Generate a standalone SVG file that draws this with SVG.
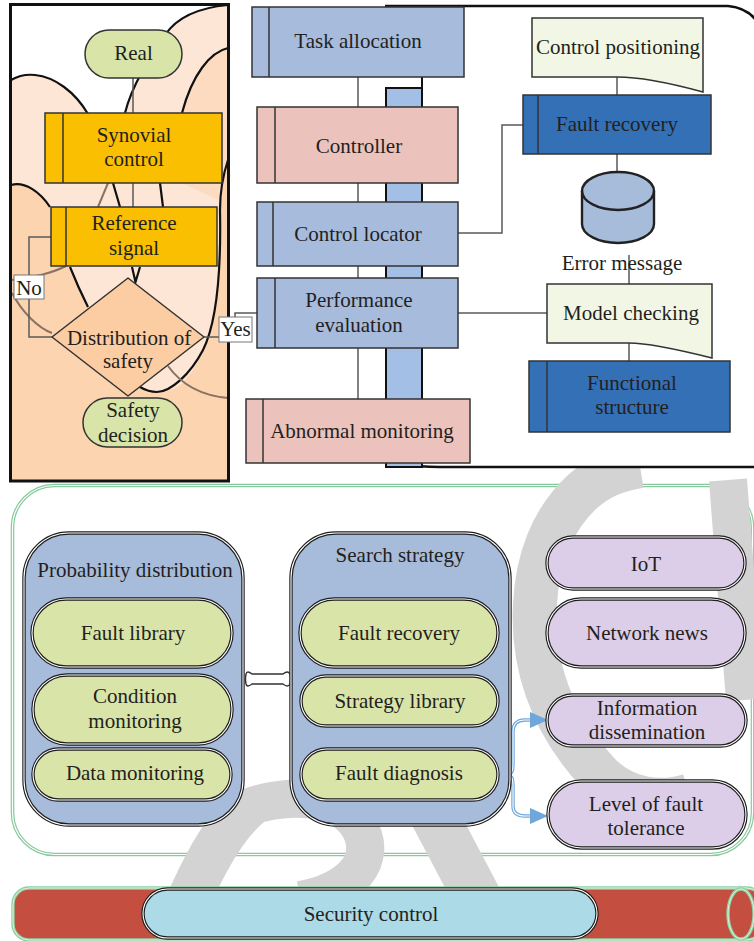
<svg xmlns="http://www.w3.org/2000/svg" width="754" height="941" viewBox="0 0 754 941">
<defs>
<style>
text{font-family:"Liberation Serif","Times New Roman",serif;font-size:21px;fill:#231f20;text-anchor:middle}
.wm{fill:none;stroke:#d3d3d3}
.bx{stroke:#333;stroke-width:1.5}
.blue{fill:#a7bbdc}
.pink{fill:#ecc3bc}
.dark{fill:#3470b6}
.org{fill:#f9bf00}
.grn{fill:#d8e4a8}
.doc{fill:#f2f7e5}
.in{stroke:#333;stroke-width:1.5;fill:none}
.con{stroke:#5a5a5a;stroke-width:1.5;fill:none}
.blk{stroke:#111;stroke-width:2.2;fill:none}
.brn{stroke:#8a7262;stroke-width:2;fill:none}
.d1{stroke:#1e1e1e;stroke-width:3.4}
.d2{fill:none;stroke:#fff;stroke-width:1.1}
.pl{fill:#d9e4a9}
.pu{fill:#dccde8}
.ct{fill:#a7bbdb}
.fl1{fill:none;stroke:#6fa6dc;stroke-width:3.4}
.fl2{fill:none;stroke:#fff;stroke-width:1.1}
.lbl{fill:#fff;stroke:#777;stroke-width:1}
</style>
</defs>
<rect width="754" height="941" fill="#fff"/>

<!-- bottom panel frame -->
<g id="bottom-panel">
<rect x="12.5" y="485.5" width="740" height="369" rx="42" fill="#fff" stroke="#86c99c" stroke-width="3.6"/>
<rect x="12.5" y="485.5" width="740" height="369" rx="42" fill="none" stroke="#fff" stroke-width="1.2"/>
</g>

<!-- background watermark shapes -->
<g id="watermark">
<path class="wm" stroke-width="44" d="M640,466 C615,470 598,478 582,492 C552,520 537,560 535,605 C532,660 548,720 600,775 C625,800 660,805 690,795"/>
<path class="wm" stroke-width="38" d="M728,480 L745,700"/>
<path class="wm" stroke-width="44" d="M168,950 C195,880 220,830 250,805"/>
<path class="wm" stroke-width="38" d="M235,812 C275,795 335,790 358,825 C380,860 350,892 300,900"/>
<path class="wm" stroke-width="48" d="M418,785 L505,950"/>
</g>

<!-- top-right panel -->
<g id="top-right-panel">
<rect x="238" y="0" width="516" height="466" fill="#fff"/>
<path d="M385,6 H728 Q750,8 760,26" fill="none" stroke="#111" stroke-width="2.6"/>
<path d="M405,464 Q418,467 440,467 H756" fill="none" stroke="#111" stroke-width="2.6"/>
<rect x="386" y="88" width="36" height="379" fill="#a3bfe6" stroke="#111" stroke-width="2"/>
<line x1="422" y1="77" x2="422" y2="88" stroke="#111" stroke-width="2"/>
</g>

<!-- top-left panel -->
<g id="top-left-panel">
<rect x="10.5" y="4.5" width="218" height="476.5" fill="#fdd4b0"/>
<path fill="#fde6d6" d="M11,5 H228 V162 C222,178 220,200 220,240 C220,300 210,360 180,385 C165,395 150,392 140,387 L130,300 L88,307 C82,295 75,283 68,267 L52,210 C45,195 30,180 11,185 Z"/>
<path fill="#fddbc1" d="M228,48 C210,52 192,75 182,113 L182,183 L218,200 C220,185 223,172 228,162 Z"/>
<path fill="#fff" d="M11,5 H228 C195,8 175,20 165,35 C150,57 132,85 125,113 L87,113 C75,92 55,76 35,75 C26,74 18,76 11,80 Z"/>
<path class="blk" d="M11,80 C18,76 26,74 35,75 C55,77 75,92 88,114"/>
<path class="blk" d="M228,5 C195,8 175,20 165,35 C150,57 132,85 125,113"/>
<path class="blk" d="M228,48 C210,52 192,75 182,113"/>
<path class="blk" d="M113,183 L120,207 M160,183 L163,207"/>
<path class="blk" d="M11,185 C25,181 40,192 50,207"/>
<path class="blk" d="M70,267 C76,282 82,295 88,307"/>
<path class="blk" d="M132,267 L135.5,282 L140,267"/>
<path class="blk" d="M228,160 C223,175 220,190 220,210 C221,262 218,320 203,350 C190,375 170,392 157,392 C150,392 145,390 140,387"/>
<path class="brn" d="M108,183 L98,207"/>
<path class="brn" d="M11,280 C30,278 50,274 66,266"/>
<path class="brn" d="M12,293 C22,312 38,328 52,333"/>
<path class="brn" d="M168,366 C178,380 195,395 228,398"/>
<rect x="10.5" y="4.5" width="218" height="476.5" fill="none" stroke="#111" stroke-width="3"/>
</g>

<!-- connectors -->
<g id="connectors">
<path class="con" d="M133,78 V113 M133,183 V207"/>
<path class="con" d="M52,337 H29 V237 H51"/>
<path class="con" d="M204,337 H219 M235,317 V313 H257"/>
<path class="con" d="M358,77 V107 M358,183 V202 M358,266 V278 M358,348 V399"/>
<path class="con" d="M458,233 H502 V125 H523"/>
<path class="con" d="M617,77 V95 M617,154 V172"/>
<path class="con" d="M629,255 V284 M629,343 V361"/>
<path class="con" d="M458,313 H547"/>
<path d="M252,674 H283 Q288,670 290,674 Q291,679 290,684 Q288,688 283,684 H252 Q247,688 246,684 Q245,679 246,674 Q247,670 252,674 Z" fill="#fff" stroke="#333" stroke-width="1.4"/>
<path class="fl1" d="M498,775 H507 C512,775 513,771 513,765 V732 C513,724 517,720 525,720 H532"/>
<path class="fl2" d="M498,775 H507 C512,775 513,771 513,765 V732 C513,724 517,720 525,720 H532"/>
<path class="fl1" d="M498,775 H507 C512,775 513,779 513,785 V806 C513,813 517,816 525,816 H532"/>
<path class="fl2" d="M498,775 H507 C512,775 513,779 513,785 V806 C513,813 517,816 525,816 H532"/>
<polygon points="530,712 548,720 530,728" fill="#6fa6dc"/>
<polygon points="530,808 548,816 530,824" fill="#6fa6dc"/>
</g>

<!-- top-left nodes -->
<g id="real"><rect x="85" y="30" width="97" height="48" rx="24" class="grn bx"/><text x="133.5" y="60">Real</text></g>
<g id="synovial-control"><rect x="45" y="113" width="177" height="70" class="org bx"/><line x1="63" y1="113" x2="63" y2="183" class="in"/><text x="134" y="142">Synovial</text><text x="134" y="166">control</text></g>
<g id="reference-signal"><rect x="51" y="207" width="166" height="59" class="org bx"/><line x1="66" y1="207" x2="66" y2="266" class="in"/><text x="134" y="230">Reference</text><text x="134" y="255">signal</text></g>
<g id="distribution-of-safety"><polygon points="128,278 204,337 128,396 52,337" fill="#fccca2" stroke="#333" stroke-width="1.5" stroke-linejoin="round"/><text x="129" y="345">Distribution of</text><text x="128" y="368">safety</text></g>
<g id="safety-decision"><rect x="83" y="398" width="99" height="49" rx="24.5" class="grn bx"/><text x="133" y="417">Safety</text><text x="133" y="442">decision</text></g>
<g id="label-no"><rect x="14" y="275" width="30" height="24" class="lbl"/><text x="29" y="295">No</text></g>
<g id="label-yes"><rect x="219" y="317" width="33" height="25" class="lbl"/><text x="235.5" y="336">Yes</text></g>

<!-- top-right nodes -->
<g id="task-allocation"><rect x="252" y="7" width="212" height="70" class="blue bx"/><line x1="269" y1="7" x2="269" y2="77" class="in"/><text x="358" y="48">Task allocation</text></g>
<g id="controller"><rect x="257" y="107" width="201" height="76" class="pink bx"/><line x1="275" y1="107" x2="275" y2="183" class="in"/><text x="359" y="153">Controller</text></g>
<g id="control-locator"><rect x="257" y="202" width="201" height="64" class="blue bx"/><line x1="273" y1="202" x2="273" y2="266" class="in"/><text x="358" y="241">Control locator</text></g>
<g id="performance-evaluation"><rect x="257" y="278" width="201" height="70" class="blue bx"/><line x1="275" y1="278" x2="275" y2="348" class="in"/><text x="359" y="307">Performance</text><text x="359" y="332">evaluation</text></g>
<g id="abnormal-monitoring"><rect x="246" y="399" width="224" height="64" class="pink bx"/><line x1="263" y1="399" x2="263" y2="463" class="in"/><text x="362" y="438">Abnormal monitoring</text></g>
<g id="control-positioning"><path d="M532,18 H703 V92 C670,83 640,77 617,77 H532 Z" class="doc bx"/><text x="618" y="54">Control positioning</text></g>
<g id="fault-recovery-top"><rect x="523" y="95" width="188" height="59" class="dark bx"/><line x1="538" y1="95" x2="538" y2="154" class="in"/><text x="617" y="131">Fault recovery</text></g>
<g id="error-message"><path d="M582,191 V224 A36,19 0 0 0 654,224 V191 A36,19 0 0 0 582,191 Z" fill="#a7bbdb" stroke="#222" stroke-width="2.4"/><path d="M582,191 A36,19 0 0 0 654,191" fill="none" stroke="#222" stroke-width="2.4"/><text x="622" y="270">Error message</text></g>
<g id="model-checking"><path d="M547,284 H712 V358 C680,350 650,343 629,343 H547 Z" class="doc bx"/><text x="631" y="320">Model checking</text></g>
<g id="functional-structure"><rect x="529" y="361" width="201" height="71" class="dark bx"/><line x1="547" y1="361" x2="547" y2="432" class="in"/><text x="632" y="390">Functional</text><text x="632" y="414">structure</text></g>

<!-- bottom nodes -->
<g id="probability-distribution"><rect x="24" y="533" width="219" height="292" rx="45" class="ct d1"/><rect x="24" y="533" width="219" height="292" rx="45" class="d2"/><text x="135" y="577">Probability distribution</text></g>
<g id="fault-library"><rect x="32" y="599" width="200" height="68" rx="34" class="pl d1"/><rect x="32" y="599" width="200" height="68" rx="34" class="d2"/><text x="133" y="640">Fault library</text></g>
<g id="condition-monitoring"><rect x="33" y="675" width="199" height="69" rx="34" class="pl d1"/><rect x="33" y="675" width="199" height="69" rx="34" class="d2"/><text x="135" y="703">Condition</text><text x="135" y="728">monitoring</text></g>
<g id="data-monitoring"><rect x="33" y="749" width="198" height="51" rx="25.5" class="pl d1"/><rect x="33" y="749" width="198" height="51" rx="25.5" class="d2"/><text x="135" y="780">Data monitoring</text></g>
<g id="search-strategy"><rect x="291" y="533" width="219" height="292" rx="45" class="ct d1"/><rect x="291" y="533" width="219" height="292" rx="45" class="d2"/><text x="400" y="562">Search strategy</text></g>
<g id="fault-recovery"><rect x="300" y="599" width="198" height="68" rx="34" class="pl d1"/><rect x="300" y="599" width="198" height="68" rx="34" class="d2"/><text x="399" y="640">Fault recovery</text></g>
<g id="strategy-library"><rect x="301" y="676" width="197" height="50" rx="25" class="pl d1"/><rect x="301" y="676" width="197" height="50" rx="25" class="d2"/><text x="400" y="708">Strategy library</text></g>
<g id="fault-diagnosis"><rect x="301" y="749" width="197" height="51" rx="25.5" class="pl d1"/><rect x="301" y="749" width="197" height="51" rx="25.5" class="d2"/><text x="399" y="780">Fault diagnosis</text></g>
<g id="iot"><rect x="547" y="537" width="198" height="52" rx="26" class="pu d1"/><rect x="547" y="537" width="198" height="52" rx="26" class="d2"/><text x="646" y="571">IoT</text></g>
<g id="network-news"><rect x="547" y="599" width="198" height="68" rx="34" class="pu d1"/><rect x="547" y="599" width="198" height="68" rx="34" class="d2"/><text x="647" y="640">Network news</text></g>
<g id="information-dissemination"><rect x="547" y="695" width="199" height="51" rx="25.5" class="pu d1"/><rect x="547" y="695" width="199" height="51" rx="25.5" class="d2"/><text x="647" y="715">Information</text><text x="647" y="739">dissemination</text></g>
<g id="level-of-fault-tolerance"><rect x="548" y="781" width="198" height="67" rx="33.5" class="pu d1"/><rect x="548" y="781" width="198" height="67" rx="33.5" class="d2"/><text x="646" y="811">Level of fault</text><text x="646" y="835">tolerance</text></g>

<!-- bottom bar -->
<g id="security-bar">
<rect x="13" y="888" width="750" height="52" rx="16" fill="#c44f40" stroke="#8fd0a2" stroke-width="3.4"/>
<rect x="13" y="888" width="750" height="52" rx="16" fill="none" stroke="#dff2e4" stroke-width="1"/>
<ellipse cx="741" cy="914" rx="13" ry="25" fill="#c44f40" stroke="#8fd0a2" stroke-width="3.4"/>
<ellipse cx="741" cy="914" rx="13" ry="25" fill="none" stroke="#dff2e4" stroke-width="1"/>
</g>
<g id="security-control"><rect x="143" y="889" width="454" height="49" rx="24.5" fill="#acdae6" class="d1"/><rect x="143" y="889" width="454" height="49" rx="24.5" class="d2"/><text x="371" y="921">Security control</text></g>
</svg>
